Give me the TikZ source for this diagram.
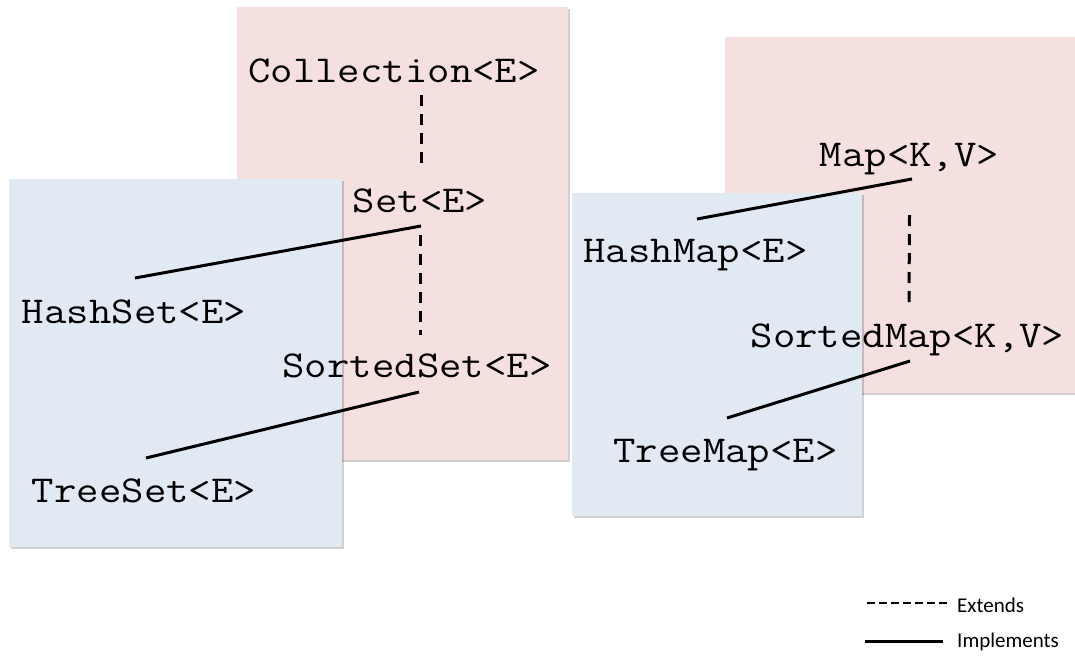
\documentclass[tikz,border=0pt]{standalone}
\usepackage{fontspec}
\newfontfamily\legfont{Carlito}
\usetikzlibrary{calc}
\definecolor{pinkbox}{HTML}{F4E0DF}
\definecolor{bluebox}{HTML}{E1E9F3}
\newcommand{\clsname}[1]{\scalebox{1.145}[1]{#1}}
\tikzset{
  cls/.style={inner sep=0pt, outer sep=0pt, anchor=base, font=\ttfamily\fontsize{38}{40}\selectfont},
  leg/.style={inner sep=0pt, anchor=west, font=\legfont\fontsize{21}{24}\selectfont},
  extends/.style={line width=3pt, dash pattern=on 11pt off 8pt},
  implements/.style={line width=3pt},
  legdash/.style={line width=2.8pt, dash pattern=on 8pt off 4pt},
  legsolid/.style={line width=3pt},
  pinkpanel/.style={fill=pinkbox, draw=none},
  bluepanel/.style={fill=bluebox, draw=none},
  shade/.style={fill=black, opacity=0.18, draw=none}
}
\begin{document}
\begin{tikzpicture}[x=1pt, y=-1pt]
\useasboundingbox (0,0) rectangle (1075,656);
% panels
\fill[shade] (239,9) rectangle (570,462);
\fill[pinkpanel] (237,7) rectangle (568,460);
\fill[shade] (727,39) rectangle (1077,395);
\fill[pinkpanel] (725,37) rectangle (1075,393);
\fill[shade] (11,181) rectangle (344,549);
\fill[bluepanel] (9,179) rectangle (342,547);
\fill[shade] (574,195) rectangle (864,518);
\fill[bluepanel] (572,193) rectangle (862,516);
% class names
\node[cls] (coll) at (394,82) {\clsname{Collection<E>}};
\node[cls] (set) at (420,212) {\clsname{Set<E>}};
\node[cls] (hashset) at (134,323) {\clsname{HashSet<E>}};
\node[cls] (sortedset) at (417,377) {\clsname{SortedSet<E>}};
\node[cls] (treeset) at (144,502) {\clsname{TreeSet<E>}};
\node[cls] (map) at (909.5,166) {\clsname{Map<K,V>}};
\node[cls] (hashmap) at (695.5,262) {\clsname{HashMap<E>}};
\node[cls] (sortedmap) at (907.5,347) {\clsname{SortedMap<K,V>}};
\node[cls] (treemap) at (725.5,462) {\clsname{TreeMap<E>}};
% extends
\draw[extends] ($(coll.base)+(27,13)$) -- ($(set.base)+(1,-44)$);
\draw[extends] ($(set.base)+(0,23)$) -- ($(sortedset.base)+(3,-42)$);
\draw[extends] ($(map.base)+(0,49)$) -- ($(sortedmap.base)+(1.5,-44)$);
% implements
\draw[implements] ($(hashset.base)+(1,-45)$) -- ($(set.base)+(1,14)$);
\draw[implements] ($(treeset.base)+(2,-44)$) -- ($(sortedset.base)+(2,15)$);
\draw[implements] ($(hashmap.base)+(1.5,-43)$) -- ($(map.base)+(2.5,13)$);
\draw[implements] ($(treemap.base)+(1.5,-44)$) -- ($(sortedmap.base)+(2.5,14)$);
% legend
\node[leg] (ext) at (957,605) {Extends};
\node[leg] (impl) at (957,642) {Implements};
\coordinate (extstart) at (867,603);
\coordinate (implstart) at (865,641);
\draw[legdash] (extstart) -- (extstart -| {$(ext.west)+(-10,0)$});
\draw[legsolid] (implstart) -- (implstart -| {$(impl.west)+(-14,0)$});
\end{tikzpicture}
\end{document}
